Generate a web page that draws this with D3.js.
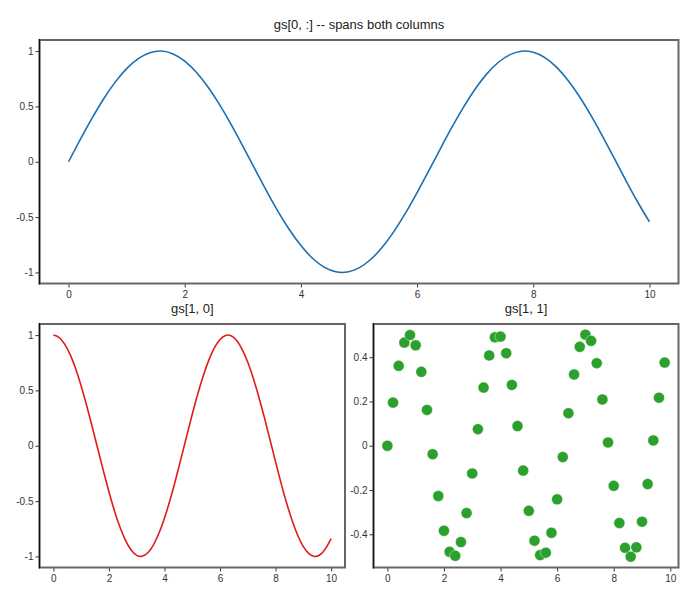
<!DOCTYPE html>
<html>
<head>
<meta charset="utf-8">
<script src="https://cdn.jsdelivr.net/npm/d3@7/dist/d3.min.js"></script>
<style>
  html, body { margin: 0; padding: 0; background: #fff; }
  svg { display: block; font-family: "Liberation Sans", Arial, sans-serif; }
</style>
</head>
<body>
<svg id="chart" width="700" height="600"></svg>
<script>
// ---- data ----
const lineX = [0,0.2,0.4,0.6,0.8,1,1.2,1.4,1.6,1.8,2,2.2,2.4,2.6,2.8,3,3.2,3.4,3.6,3.8,4,4.2,4.4,4.6,4.8,5,5.2,5.4,5.6,5.8,6,6.2,6.4,6.6,6.8,7,7.2,7.4,7.6,7.8,8,8.2,8.4,8.6,8.8,9,9.2,9.4,9.6,9.8,10];
const sinY = [0,0.199,0.389,0.565,0.717,0.841,0.932,0.985,1.000,0.974,0.909,0.808,0.675,0.516,0.335,0.141,-0.058,-0.256,-0.443,-0.612,-0.757,-0.872,-0.952,-0.994,-0.996,-0.959,-0.883,-0.773,-0.631,-0.465,-0.279,-0.083,0.117,0.312,0.494,0.657,0.794,0.899,0.968,0.999,0.989,0.941,0.855,0.734,0.585,0.412,0.223,0.025,-0.174,-0.366,-0.544];
const cosY = [1,0.980,0.921,0.825,0.697,0.540,0.362,0.170,-0.029,-0.227,-0.416,-0.589,-0.737,-0.857,-0.942,-0.990,-0.998,-0.967,-0.897,-0.791,-0.654,-0.490,-0.307,-0.112,0.087,0.284,0.469,0.635,0.776,0.886,0.960,0.997,0.993,0.951,0.869,0.754,0.608,0.439,0.253,0.054,-0.146,-0.340,-0.519,-0.677,-0.811,-0.911,-0.975,-1.000,-0.985,-0.930,-0.839];
const scatX = [0,0.2,0.4,0.6,0.8,1,1.2,1.4,1.6,1.8,2,2.2,2.4,2.6,2.8,3,3.2,3.4,3.6,3.8,4,4.2,4.4,4.6,4.8,5,5.2,5.4,5.6,5.8,6,6.2,6.4,6.6,6.8,7,7.2,7.4,7.6,7.8,8,8.2,8.4,8.6,8.8,9,9.2,9.4,9.6,9.8];
const scatY = [0,0.195,0.361,0.466,0.500,0.454,0.334,0.162,-0.038,-0.227,-0.384,-0.479,-0.497,-0.435,-0.304,-0.125,0.075,0.263,0.408,0.490,0.493,0.418,0.275,0.089,-0.112,-0.294,-0.429,-0.494,-0.483,-0.393,-0.242,-0.051,0.147,0.322,0.447,0.502,0.474,0.373,0.209,0.015,-0.181,-0.349,-0.461,-0.501,-0.459,-0.343,-0.173,0.024,0.217,0.376];
const xTicks = [0,2,4,6,8,10];
const yTicksLine = [-1,-0.5,0,0.5,1];
const yTicksScat = [-0.4,-0.2,0,0.2,0.4];
const titles = ["gs[0, :] -- spans both columns", "gs[1, 0]", "gs[1, 1]"];

const svg = d3.select("#chart");

function fmt(v) { return v < 0 ? "-" + String(Math.abs(v)) : String(v); }

function panel(box, xDom, yDom, yTicks, title) {
  const g = svg.append("g");
  const x = d3.scaleLinear().domain(xDom).range([box.x0, box.x1]);
  const y = d3.scaleLinear().domain(yDom).range([box.y1, box.y0]);

  const xa = g.append("g").attr("transform", `translate(0,${box.y1})`)
    .call(d3.axisBottom(x).tickValues(xTicks).tickSize(4).tickPadding(3).tickFormat(fmt));
  const ya = g.append("g").attr("transform", `translate(${box.x0},0)`)
    .call(d3.axisLeft(y).tickValues(yTicks).tickSize(4).tickPadding(2).tickFormat(fmt));
  [xa, ya].forEach(a => {
    a.selectAll("text").attr("font-size", 10).attr("fill", "#333")
      .style("font-family", '"Liberation Sans", Arial, sans-serif');
    a.selectAll("line").attr("stroke", "#333");
    a.select(".domain").remove();
  });

  g.append("rect").attr("x", box.x0).attr("y", box.y0)
    .attr("width", box.x1 - box.x0).attr("height", box.y1 - box.y0)
    .attr("fill", "none").attr("stroke", "#666").attr("stroke-width", 2);
  g.append("line").attr("x1", box.x0).attr("x2", box.x0)
    .attr("y1", box.y0 - 1).attr("y2", box.y1 + 1)
    .attr("stroke", "#111").attr("stroke-width", 1.3);

  g.append("text").attr("x", (box.x0 + box.x1) / 2).attr("y", box.y0 - 11)
    .attr("text-anchor", "middle").attr("font-size", 13).attr("fill", "#222")
    .text(title);
  return { g, x, y };
}

// top panel
const p1 = panel({ x0: 39.5, x1: 678.5, y0: 40, y1: 283.5 }, [-0.5, 10.5], [-1.1, 1.1], yTicksLine, titles[0]);
p1.g.append("path")
  .datum(lineX.map((v, i) => [v, sinY[i]]))
  .attr("fill", "none").attr("stroke", "#1a6fb3").attr("stroke-width", 1.6)
  .attr("d", d3.line().x(d => p1.x(d[0])).y(d => p1.y(d[1])).curve(d3.curveNatural));

// bottom-left
const p2 = panel({ x0: 39.5, x1: 345, y0: 324, y1: 567.5 }, [-0.5, 10.5], [-1.1, 1.1], yTicksLine, titles[1]);
p2.g.append("path")
  .datum(lineX.map((v, i) => [v, cosY[i]]))
  .attr("fill", "none").attr("stroke", "#e01b1c").attr("stroke-width", 1.6)
  .attr("d", d3.line().x(d => p2.x(d[0])).y(d => p2.y(d[1])).curve(d3.curveNatural));

// bottom-right
const p3 = panel({ x0: 373.5, x1: 678.5, y0: 324, y1: 567.5 }, [-0.49, 10.29], [-0.55, 0.55], yTicksScat, titles[2]);
p3.g.selectAll("circle").data(scatX.map((v, i) => [v, scatY[i]]))
  .enter().append("circle")
  .attr("cx", d => p3.x(d[0])).attr("cy", d => p3.y(d[1]))
  .attr("r", 5.5).attr("fill", "#2ca02c").attr("stroke", "#fff").attr("stroke-width", 0.4);
</script>
</body>
</html>
